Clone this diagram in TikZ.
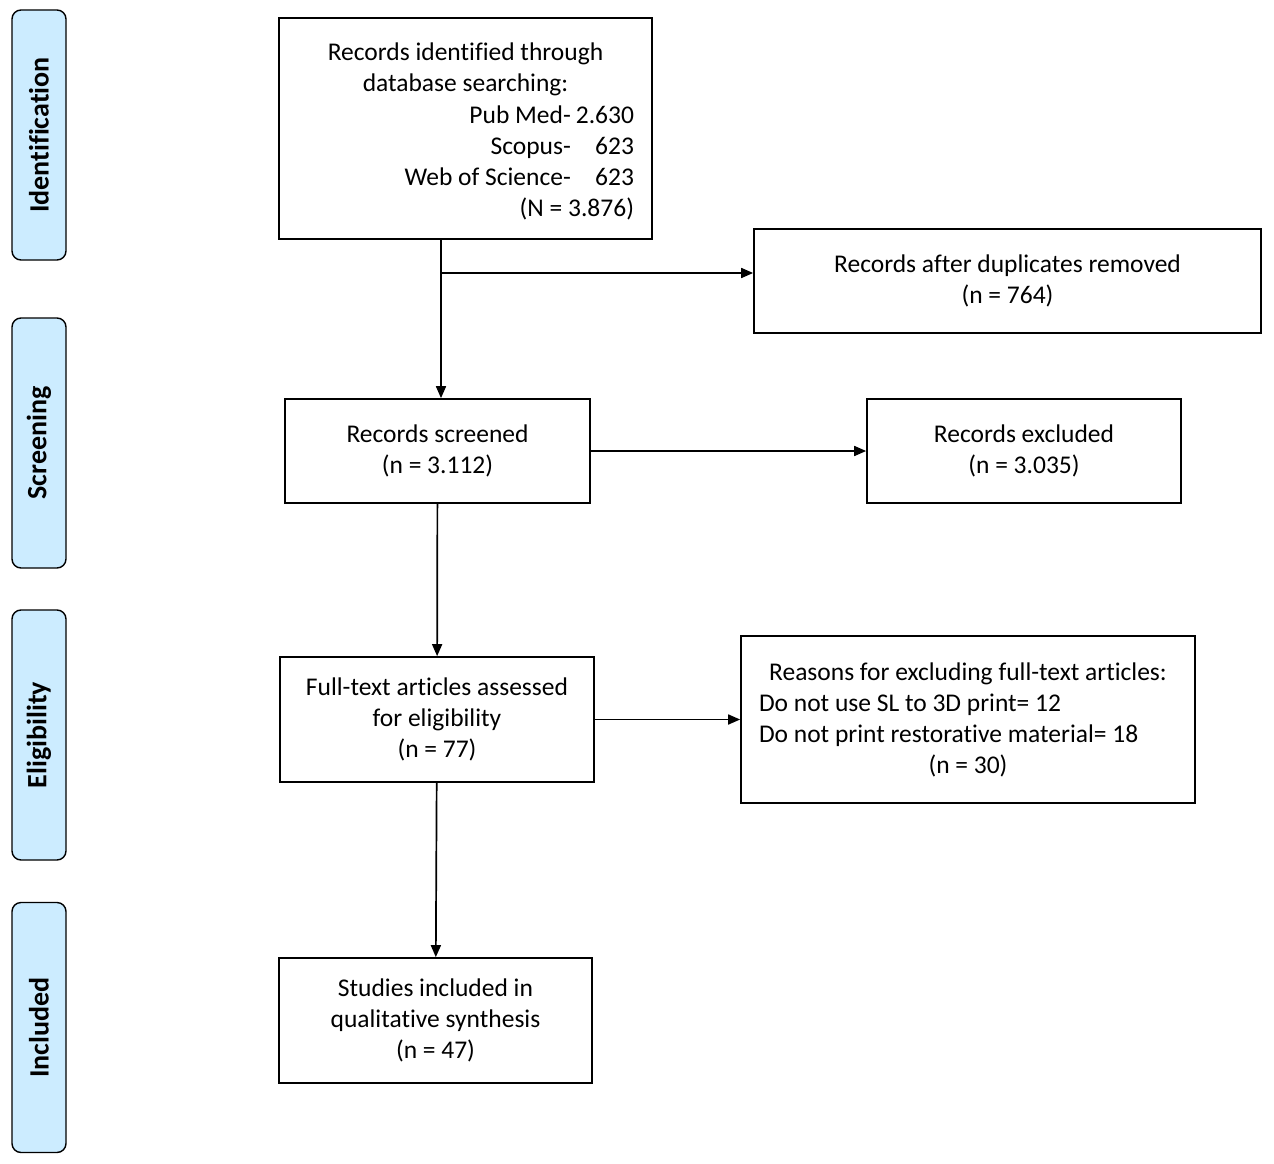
\documentclass[tikz,border=0pt]{standalone}
\usepackage{fontspec}
\setmainfont[Ligatures=NoCommon]{Carlito}
\usetikzlibrary{arrows.meta}
\definecolor{phaseblue}{RGB}{204,236,255}
\begin{document}
\begin{tikzpicture}[x=1pt,y=-1pt,line width=1.7pt,>={Triangle[length=12pt,width=10pt]}]
\tikzstyle{every node}=[font=\fontsize{25.5}{31}\selectfont]
\tikzstyle{stepbox}=[draw, rectangle, align=center, inner sep=0pt]
\tikzstyle{phase}=[draw, rectangle, rounded corners=9pt, fill=phaseblue, line width=1.4pt,
  minimum width=250pt, minimum height=54pt, rotate=90, font=\fontsize{28}{32}\selectfont\bfseries]

\useasboundingbox (0,0) rectangle (1274,1164);

% phase labels
\node[phase] (ident) at (39, 135) {Identification};
\node[phase] (screen) at (39, 443) {Screening};
\node[phase] (elig) at (39, 735) {Eligibility};
\node[phase] (incl) at (39, 1027.5) {Included};

% boxes
\node[stepbox, minimum width=373pt, minimum height=221pt] (found) at (465.5, 128.5)
  {\begin{minipage}{337pt}\vspace*{11pt}\centering Records identified through\\ database searching:\par
   \vspace{5pt}\raggedleft\begin{tabular}{@{}r@{\hspace{5pt}}r@{}}
   Pub Med- & 2.630\\ Scopus- & 623\\ Web of Science- & 623\\
   \multicolumn{2}{@{}r@{}}{(N = 3.876)}\end{tabular}\end{minipage}};
\node[stepbox, minimum width=507pt, minimum height=104pt] (dup) at (1007.5, 281)
  {Records after duplicates removed\\(n = 764)};
\node[stepbox, minimum width=305pt, minimum height=104pt] (screened) at (437.5, 451)
  {Records screened\\(n = 3.112)};
\node[stepbox, minimum width=314pt, minimum height=104pt] (excluded) at (1024, 451)
  {Records excluded\\(n = 3.035)};
\node[stepbox, minimum width=314pt, minimum height=125pt] (fulltext) at (437, 719.5)
  {Full-text articles assessed\\for eligibility\\(n = 77)};
\node[stepbox, minimum width=454pt, minimum height=167pt] (reasons) at (968, 719.5)
  {\begin{minipage}{418pt}\centering Reasons for excluding full-text articles:\par
   \raggedright Do not use SL to 3D print= 12\\ Do not print restorative material= 18\par
   \centering (n = 30)\end{minipage}};
\node[stepbox, minimum width=313pt, minimum height=125pt] (included) at (435.5, 1020.5)
  {Studies included in\\qualitative synthesis\\(n = 47)};

% connectors
\coordinate (split) at (441, 273);
\draw (found.south -| split) -- (split);
\draw[->] (split) -- (split |- screened.north);
\draw[->] (split) -- (split -| dup.west);
\draw[->] (screened) -- (excluded);
\draw[->] (screened) -- (fulltext);
\draw[->] (fulltext) -- (reasons);
\draw[->] (fulltext) -- (included);

\end{tikzpicture}
\end{document}
